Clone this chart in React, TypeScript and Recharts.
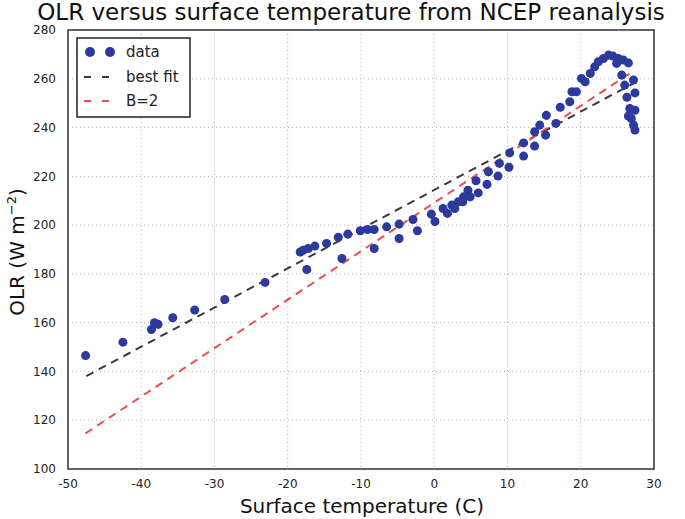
import React from 'react';
import {
  ScatterChart,
  Scatter,
  XAxis,
  YAxis,
  ZAxis,
  CartesianGrid,
  ReferenceArea,
} from 'recharts';

const tempC = [
  -47.6, -42.5, -38.6, -38.2, -37.7, -35.7, -32.7, -28.6, -23.1, -18.3, -17.9, -17.4, -17.2, -16.3,
  -14.7, -13.1, -12.6, -11.8, -10.1, -9.1, -8.2, -8.2, -6.5, -4.8, -4.8, -2.9, -2.3, -0.4, 0.1, 1.2,
  1.8, 2.4, 2.8, 3.3, 3.9, 4.0, 4.6, 4.9, 5.7, 6.0, 7.2, 7.4, 8.7, 8.9, 10.2, 10.3, 12.2, 12.2, 13.7,
  13.7, 14.4, 15.2, 15.3, 16.6, 17.2, 18.5, 18.8, 19.4, 20.1, 20.6, 21.3, 21.9, 22.4, 23.1, 23.8,
  24.4, 25.1, 24.9, 25.8, 26.5, 25.6, 27.2, 26.0, 27.4, 26.3, 26.7, 27.4, 26.5, 26.9, 27.2, 27.4,
];
const olr = [
  146.5, 152, 157.2, 160, 159.3, 162, 165.2, 169.5, 176.5, 189, 189.7, 181.8, 190.4, 191.4, 192.5,
  195, 186.3, 196.3, 197.7, 198.2, 198.2, 190.4, 199.3, 200.4, 194.5, 202.3, 197.7, 204.5, 201.5,
  206.8, 204.8, 208.2, 206.8, 209.6, 209.6, 211.6, 214.3, 211.6, 218.2, 213.2, 216.7, 221.9, 220.1,
  225.3, 223.7, 229.6, 228.3, 233.7, 232.4, 238.3, 241, 236.9, 245, 241.7, 248.3, 250.6, 254.7,
  254.7, 260.1, 258.8, 262.2, 264.9, 267, 268.3, 269.7, 269.3, 268.3, 266.3, 267.7, 266.5, 261.5,
  259.5, 257.4, 254.2, 252.4, 247.8, 247.1, 244.7, 243.7, 241, 239,
];

// end points of the two fitted lines
const fitX = [-47.5, 27.2];
const fitY = [138.1, 258.1];
const b2X = [-47.6, 26.7];
const b2Y = [114.6, 262.2];

const xTicks = [-50, -40, -30, -20, -10, 0, 10, 20, 30];
const yTicks = [100, 120, 140, 160, 180, 200, 220, 240, 260, 280];

const BLUE = '#2b3a9c';
const DARK = '#3a3a3a';
const RED = '#f24b4b';
const FONT = '"DejaVu Sans", sans-serif';

const points = tempC.map((t, i) => ({ x: t, y: olr[i] }));
const fitLine = fitX.map((x, i) => ({ x, y: fitY[i] }));
const b2Line = b2X.map((x, i) => ({ x, y: b2Y[i] }));

const NoDot = () => <g />;

function LegendBox() {
  return (
    <svg
      width={116}
      height={82}
      style={{ position: 'absolute', left: 76, top: 37, fontFamily: FONT }}
    >
      <rect x={1} y={1} width={113} height={79} fill="#fff" stroke="#222" strokeWidth={1.5} />
      <circle cx={14} cy={15} r={5} fill={BLUE} />
      <circle cx={34} cy={15} r={5} fill={BLUE} />
      <text x={50} y={20} fontSize={15} fill="#222">data</text>
      <line x1={8} y1={40} x2={40} y2={40} stroke={DARK} strokeWidth={2} strokeDasharray="7 11" />
      <text x={50} y={45} fontSize={15} fill="#222">best fit</text>
      <line x1={8} y1={64} x2={40} y2={64} stroke={RED} strokeWidth={2} strokeDasharray="7 11" />
      <text x={50} y={69} fontSize={15} fill="#222">B=2</text>
    </svg>
  );
}

export default function App() {
  return (
    <div style={{ position: 'absolute', left: 0, top: 0, width: 685, height: 519, background: '#fff', overflow: 'hidden' }}>
      <ScatterChart width={685} height={519} margin={{ top: 30, right: 31, bottom: 20, left: 8 }}>
        <CartesianGrid stroke="#b5b5b5" strokeDasharray="1 3" />
        <XAxis
          type="number"
          dataKey="x"
          domain={[-50, 30]}
          ticks={xTicks}
          allowDataOverflow
          height={30}
          tickLine={false}
          axisLine={false}
          tick={{ fill: '#222', fontSize: 12, fontFamily: FONT }}
          tickMargin={4}
        />
        <YAxis
          type="number"
          dataKey="y"
          domain={[100, 280]}
          ticks={yTicks}
          allowDataOverflow
          width={60}
          tickLine={false}
          axisLine={false}
          tick={{ fill: '#222', fontSize: 12, fontFamily: FONT }}
          tickMargin={6}
        />
        <ZAxis range={[110, 110]} />
        <ReferenceArea x1={-50} x2={30} y1={100} y2={280} fill="none" stroke="#333" strokeWidth={1.5} ifOverflow="visible" />
        <Scatter
          data={fitLine}
          line={{ stroke: DARK, strokeWidth: 2, strokeDasharray: '8 6' }}
          shape={NoDot}
          isAnimationActive={false}
        />
        <Scatter
          data={b2Line}
          line={{ stroke: RED, strokeWidth: 2, strokeDasharray: '8 6' }}
          shape={NoDot}
          isAnimationActive={false}
        />
        <Scatter data={points} fill={BLUE} isAnimationActive={false} />
      </ScatterChart>
      <LegendBox />
      <svg width={685} height={519} style={{ position: 'absolute', left: 0, top: 0, pointerEvents: 'none', fontFamily: FONT }}>
        <text x={351} y={20} textAnchor="middle" fontSize={23} fill="#111">
          OLR versus surface temperature from NCEP reanalysis
        </text>
        <text x={362} y={513} textAnchor="middle" fontSize={20} fill="#111">
          Surface temperature (C)
        </text>
        <text transform="translate(24,252) rotate(-90)" textAnchor="middle" fontSize={20} fill="#111">
          OLR (W m
          <tspan dy={-8} fontSize={13}>−2</tspan>
          <tspan dy={8}>)</tspan>
        </text>
      </svg>
    </div>
  );
}
